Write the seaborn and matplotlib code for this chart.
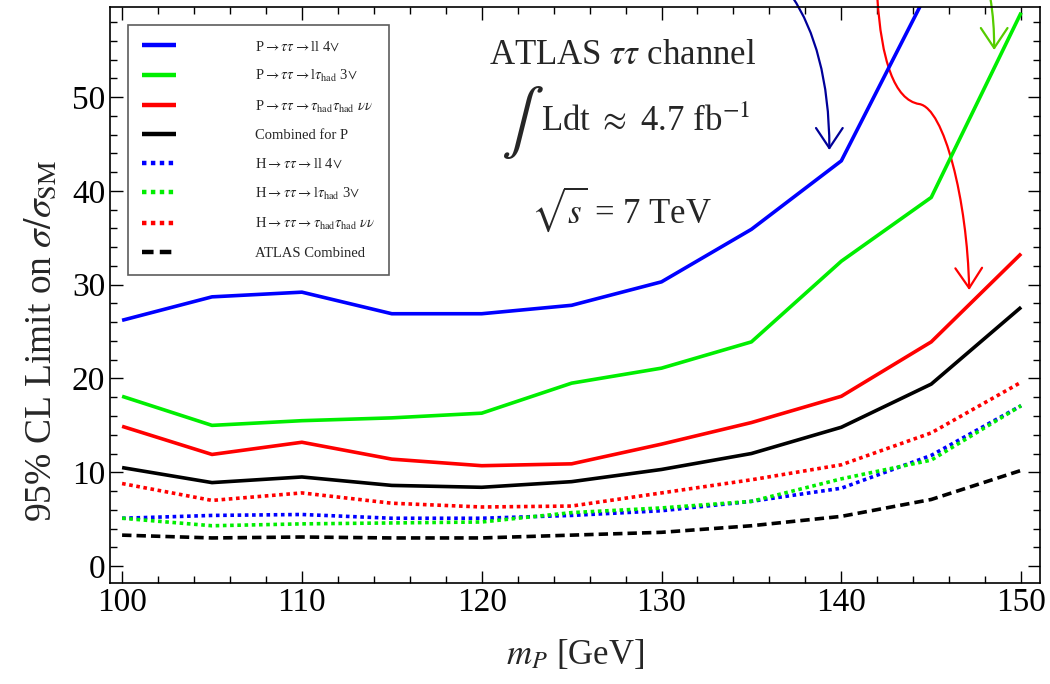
import numpy as np
import pandas as pd
import matplotlib
matplotlib.use("Agg")
import matplotlib.pyplot as plt
import seaborn as sns
from matplotlib.path import Path
from matplotlib.patches import FancyArrowPatch

# ---------------- data ----------------
mass = [100, 105, 110, 115, 120, 125, 130, 135, 140, 145, 150]
p_ll = [26.2, 28.7, 29.2, 26.9, 26.9, 27.8, 30.3, 35.9, 43.2, 62.0, 85.0]
p_lhad = [18.1, 15.0, 15.5, 15.8, 16.3, 19.5, 21.1, 23.9, 32.5, 39.3, 59.0]
p_hadhad = [14.9, 11.9, 13.2, 11.4, 10.7, 10.9, 13.0, 15.3, 18.1, 23.9, 33.3]
p_comb = [10.5, 8.9, 9.5, 8.6, 8.4, 9.0, 10.3, 12.0, 14.8, 19.4, 27.6]
h_ll = [5.1, 5.4, 5.5, 5.1, 5.1, 5.4, 5.9, 6.9, 8.3, 11.8, 17.1]
h_lhad = [5.1, 4.3, 4.5, 4.6, 4.7, 5.7, 6.2, 6.9, 9.3, 11.3, 17.1]
h_hadhad = [8.8, 7.0, 7.8, 6.7, 6.3, 6.4, 7.8, 9.2, 10.8, 14.2, 19.6]
atlas_comb = [3.3, 3.0, 3.1, 3.0, 3.0, 3.3, 3.6, 4.3, 5.3, 7.1, 10.2]

labels = [
    r"P$\rightarrow\tau\tau\rightarrow$ll 4$\vee$",
    r"P$\rightarrow\tau\tau\rightarrow$l$\tau_{\rm had}$ 3$\vee$",
    r"P$\rightarrow\tau\tau\rightarrow\tau_{\rm had}\tau_{\rm had}$ $\nu\nu$",
    "Combined for P",
    r"H$\rightarrow\tau\tau\rightarrow$ll 4$\vee$",
    r"H$\rightarrow\tau\tau\rightarrow$l$\tau_{\rm had}$ 3$\vee$",
    r"H$\rightarrow\tau\tau\rightarrow\tau_{\rm had}\tau_{\rm had}$ $\nu\nu$",
    "ATLAS Combined",
]
series = [p_ll, p_lhad, p_hadhad, p_comb, h_ll, h_lhad, h_hadhad, atlas_comb]
colors = ["#0000ff", "#00ee00", "#ff0000", "#000000",
          "#0000ff", "#00ee00", "#ff0000", "#000000"]
styles = ["-", "-", "-", "-", (0, (1.0, 1.0)), (0, (1.0, 1.0)), (0, (1.0, 1.0)), (0, (2.6, 1.4))]

# ---------------- style ----------------
sns.set_theme(style="ticks")
plt.rcParams["font.family"] = ["Liberation Serif", "DejaVu Serif"]
plt.rcParams["mathtext.fontset"] = "stix"

fig = plt.figure(figsize=(10.5, 6.84), dpi=100)
ax = fig.add_axes([0.1048, 0.1477, 0.8857, 0.8421])

for vals, lab, col, ls in zip(series, labels, colors, styles):
    df = pd.DataFrame({"m": mass, "v": vals})
    sns.lineplot(data=df, x="m", y="v", ax=ax, color=col, label=lab,
                 linewidth=2.6, linestyle=ls, solid_capstyle="butt",
                 dash_capstyle="butt")

ax.set_xlim(99.33, 151.05)
ax.set_ylim(-1.8, 59.6)
ax.set_xticks([100, 110, 120, 130, 140, 150])
ax.set_xticks(np.arange(100, 151, 2), minor=True)
ax.set_yticks([0, 10, 20, 30, 40, 50])
ax.set_yticks(np.arange(0, 59, 2), minor=True)
ax.tick_params(which="both", direction="in", top=True, right=True,
               labelsize=24, width=1.0, colors="black")
ax.tick_params(which="major", length=9)
ax.tick_params(which="minor", length=5)
for sp in ax.spines.values():
    sp.set_linewidth(1.2)
    sp.set_color("black")

ax.set_xlabel(r"$m_P$ [GeV]", fontsize=25, labelpad=14)
ax.set_ylabel(r"95% CL Limit on $\sigma/\sigma_{\rm SM}$", fontsize=27)
ax.yaxis.set_label_coords(-0.055, 0.42)

leg = ax.legend(loc="upper left", bbox_to_anchor=(0.019, 0.969), fontsize=10.5,
                frameon=True, fancybox=False, edgecolor="#333333",
                handlelength=2.3, handletextpad=5.4, labelspacing=1.0,
                borderpad=1.0, borderaxespad=0.0)
leg.get_frame().set_linewidth(1.2)
for line in leg.get_lines():
    line.set_linewidth(3.2)

# ---------------- annotation text ----------------
ax.text(0.551, 0.915, r"ATLAS $\tau\tau$ channel", transform=ax.transAxes,
        ha="center", va="center", fontsize=25)
ax.text(0.443, 0.80, r"$\int$", transform=ax.transAxes,
        ha="center", va="center", fontsize=46)
ax.text(0.463, 0.80, r"Ldt $\approx$ 4.7 fb$^{-1}$", transform=ax.transAxes,
        ha="left", va="center", fontsize=25)
ax.text(0.55, 0.648, r"$\sqrt{s}$ = 7 TeV", transform=ax.transAxes,
        ha="center", va="center", fontsize=25)

# ---------------- arrows (pixel geometry -> data) ----------------
def px(x, y):
    return (100 + (x - 122) / 18.0, (566 - y) / 9.38)

def arrow(pts, codes, color):
    path = Path([px(*p) for p in pts], codes)
    a = FancyArrowPatch(path=path, arrowstyle="->,head_length=9,head_width=6",
                        color=color, linewidth=1.6, transform=ax.transData,
                        clip_on=False, mutation_scale=1.6)
    ax.add_patch(a)

C = Path.CURVE4
arrow([(793, -3), (815, 30), (830, 80), (830, 150)],
      [Path.MOVETO, C, C, C], "#000099")
arrow([(878, -3), (882, 60), (895, 100), (920, 104),
       (945, 108), (968, 200), (970, 290)],
      [Path.MOVETO, C, C, C, C, C, C], "#ff0000")
arrow([(991, -3), (994, 15), (995, 30), (995, 50)],
      [Path.MOVETO, C, C, C], "#55cc00")

fig.savefig("out.png", dpi=100)
